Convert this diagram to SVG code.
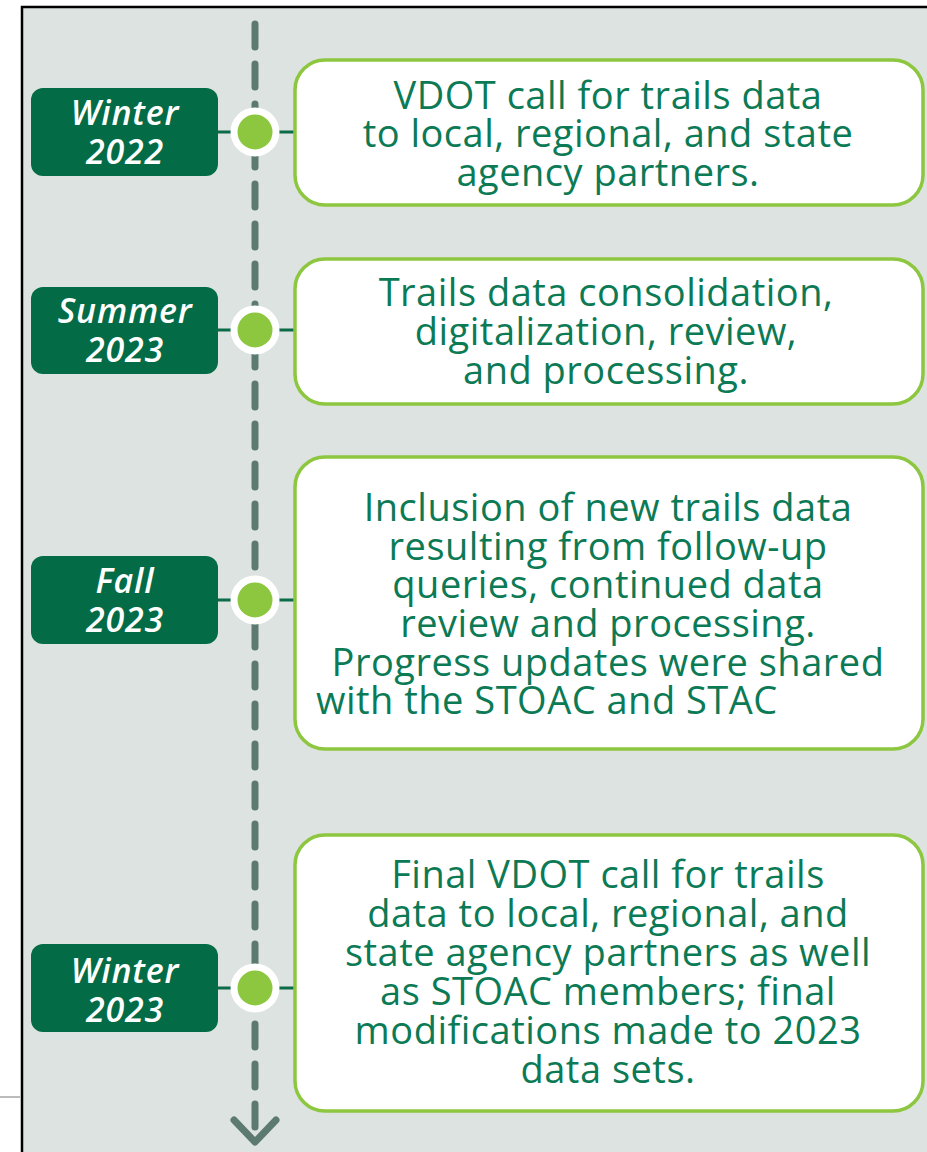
<svg xmlns="http://www.w3.org/2000/svg" width="927" height="1152" viewBox="0 0 927 1152">
<defs>
<style>
.bg{fill:#dde3e0}
.frame{stroke:#000;stroke-width:2.5;fill:none}
.spine{stroke:#5c7a70;stroke-width:7;stroke-linecap:round;stroke-linejoin:round;fill:none}
.tick{stroke:#0b6b47;stroke-width:3}
.lbl{fill:#036c47}
.lt{font-family:"Open Sans","DejaVu Sans",sans-serif;font-weight:600;font-style:italic;font-size:34px;letter-spacing:0.8px;fill:#fff;text-anchor:middle}
.ring{fill:#8dc63f;stroke:#fff;stroke-width:7}
.card{fill:#fff;stroke:#8dc63f;stroke-width:3.5}
.ct{font-family:"Open Sans","DejaVu Sans",sans-serif;font-size:38px;letter-spacing:0.5px;fill:#0b7a55;text-anchor:middle}
</style>
</defs>
<rect x="0" y="0" width="927" height="1152" fill="#fff"/>
<rect class="bg" x="22" y="7" width="905" height="1145"/>
<path class="frame" d="M22 1152 V7 H927"/>
<line x1="0" y1="1097" x2="21" y2="1097" stroke="#bcbcbc" stroke-width="2"/>
<g id="connectors">
<line class="spine" x1="255" y1="24" x2="255" y2="1142" stroke-dasharray="23 17"/>
<path class="spine" d="M234 1120 L255 1142 L276 1120"/>
<line class="tick" x1="218" y1="132" x2="294" y2="132"/>
<line class="tick" x1="218" y1="330" x2="294" y2="330"/>
<line class="tick" x1="218" y1="600" x2="294" y2="600"/>
<line class="tick" x1="218" y1="988" x2="294" y2="988"/>
</g>
<g id="n1">
<rect class="lbl" x="31" y="88" width="187" height="88" rx="12"/>
<text class="lt" x="125" y="125">Winter</text>
<text class="lt" x="125" y="164">2022</text>
<circle class="ring" cx="255" cy="132" r="21"/>
<rect class="card" x="295" y="60" width="628" height="145" rx="30"/>
<text class="ct" x="608" y="109">VDOT call for trails data</text>
<text class="ct" x="608" y="147">to local, regional, and state</text>
<text class="ct" x="608" y="186">agency partners.</text>
</g>
<g id="n2">
<rect class="lbl" x="31" y="287" width="187" height="87" rx="12"/>
<text class="lt" x="125" y="323">Summer</text>
<text class="lt" x="125" y="362">2023</text>
<circle class="ring" cx="255" cy="330" r="21"/>
<rect class="card" x="295" y="259" width="628" height="145" rx="30"/>
<text class="ct" x="606" y="306">Trails data consolidation,</text>
<text class="ct" x="606" y="345">digitalization, review,</text>
<text class="ct" x="606" y="384">and processing.</text>
</g>
<g id="n3">
<rect class="lbl" x="31" y="556" width="187" height="88" rx="12"/>
<text class="lt" x="125" y="593">Fall</text>
<text class="lt" x="125" y="632">2023</text>
<circle class="ring" cx="255" cy="600" r="21"/>
<rect class="card" x="295" y="457" width="628" height="292" rx="30"/>
<text class="ct" x="608" y="521">Inclusion of new trails data</text>
<text class="ct" x="608" y="560">resulting from follow-up</text>
<text class="ct" x="608" y="598">queries, continued data</text>
<text class="ct" x="608" y="637">review and processing.</text>
<text class="ct" x="608" y="676">Progress updates were shared</text>
<text class="ct" x="316" y="714" style="text-anchor:start">with the STOAC and STAC</text>
</g>
<g id="n4">
<rect class="lbl" x="31" y="944" width="187" height="88" rx="12"/>
<text class="lt" x="125" y="983">Winter</text>
<text class="lt" x="125" y="1022">2023</text>
<circle class="ring" cx="255" cy="988" r="21"/>
<rect class="card" x="295" y="835" width="628" height="276" rx="30"/>
<text class="ct" x="608" y="888">Final VDOT call for trails</text>
<text class="ct" x="608" y="927">data to local, regional, and</text>
<text class="ct" x="608" y="966">state agency partners as well</text>
<text class="ct" x="608" y="1005">as STOAC members; final</text>
<text class="ct" x="608" y="1044">modifications made to 2023</text>
<text class="ct" x="608" y="1083">data sets.</text>
</g>
</svg>
